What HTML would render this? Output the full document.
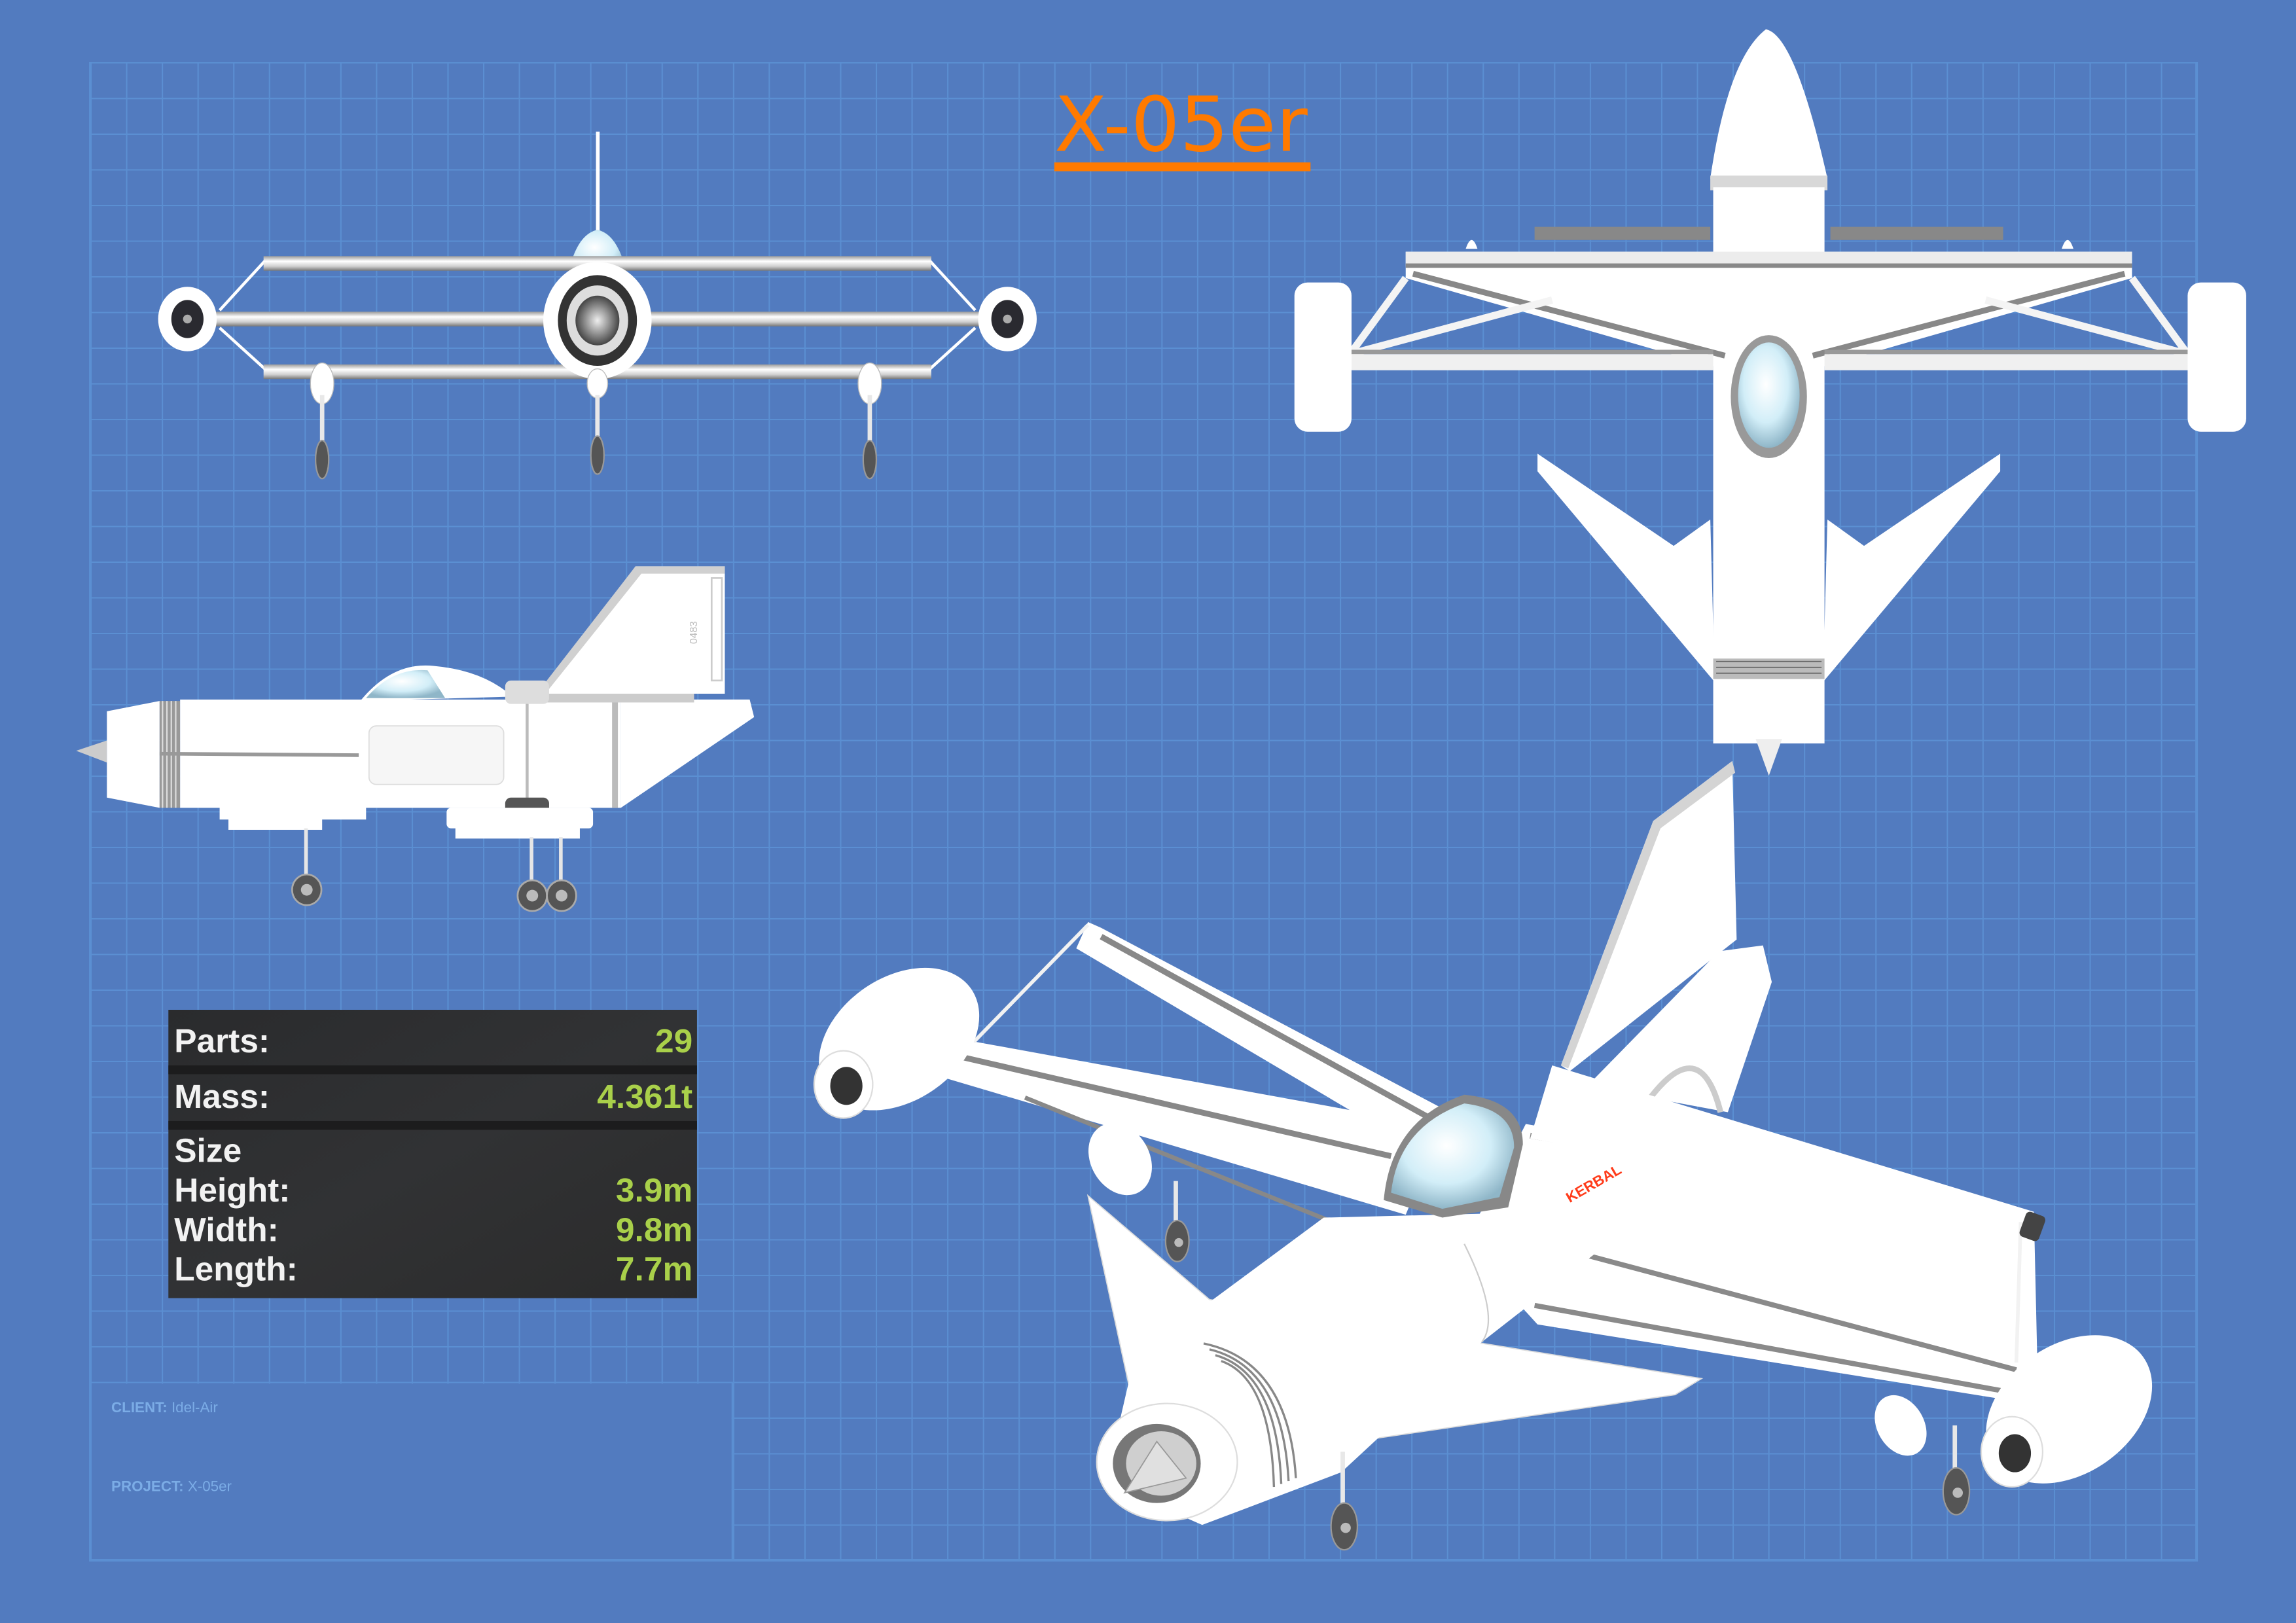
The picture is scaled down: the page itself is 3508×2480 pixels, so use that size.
<!DOCTYPE html>
<html><head><meta charset="utf-8"><style>
html,body{margin:0;padding:0;background:#527bbf;}
svg{display:block;}
</style></head><body>
<svg width="3508" height="2480" viewBox="0 0 1568 1109" preserveAspectRatio="none" xmlns="http://www.w3.org/2000/svg">
<defs>
<pattern id="grid" x="61.7" y="42.5" width="24.38" height="24.37" patternUnits="userSpaceOnUse">
<path d="M0 0V24.37M0 0H24.38" stroke="#5b8fd2" stroke-width="1.8" fill="none"/>
</pattern>
<linearGradient id="bar" x1="0" y1="0" x2="0" y2="1">
<stop offset="0" stop-color="#9a9a9a"/><stop offset="0.35" stop-color="#ffffff"/><stop offset="0.7" stop-color="#cfcfcf"/><stop offset="1" stop-color="#777"/>
</linearGradient>
<radialGradient id="glass" cx="0.45" cy="0.4" r="0.6">
<stop offset="0" stop-color="#ffffff"/><stop offset="0.6" stop-color="#d2eef8"/><stop offset="1" stop-color="#8fb6c8"/>
</radialGradient>
<radialGradient id="eng" cx="0.5" cy="0.5" r="0.5">
<stop offset="0" stop-color="#eee"/><stop offset="0.5" stop-color="#999"/><stop offset="1" stop-color="#444"/>
</radialGradient>
<linearGradient id="panel" x1="0" y1="0" x2="1" y2="1">
<stop offset="0" stop-color="#2a2b2d"/><stop offset="0.5" stop-color="#313234"/><stop offset="1" stop-color="#2b2b2b"/>
</linearGradient>
</defs>
<rect width="1568" height="1109" fill="#527bbf"/>
<rect x="61.7" y="42.5" width="1438.4" height="1023.6" fill="url(#grid)"/>
<rect x="62.6" y="945.5" width="437" height="120" fill="#527bbf"/>
<path d="M61.7 42.5V1066.1H1500.1V42.5" stroke="#5b8fd2" stroke-width="1.8" fill="none"/>
<path d="M500.5 944.6V1066" stroke="#5b8fd2" stroke-width="1.8"/>

<!-- title -->
<text x="720" y="103" font-family="'DejaVu Sans','Liberation Sans',sans-serif" font-size="52" fill="#ff7a00" textLength="173" lengthAdjust="spacingAndGlyphs">X-05er</text>
<rect x="720" y="111" width="175" height="6" fill="#ff7a00"/>

<!-- client/project -->
<text x="76" y="965" font-family="'Liberation Sans',sans-serif" font-size="10" fill="#7bace6"><tspan font-weight="bold">CLIENT:</tspan> Idel-Air</text>
<text x="76" y="1019" font-family="'Liberation Sans',sans-serif" font-size="10" fill="#7bace6"><tspan font-weight="bold">PROJECT:</tspan> X-05er</text>

<!-- stats panel -->
<rect x="115" y="690" width="361" height="197" fill="url(#panel)"/>
<rect x="115" y="728" width="361" height="6" fill="#1c1c1d"/>
<rect x="115" y="766" width="361" height="6" fill="#1c1c1d"/>
<g font-family="'Liberation Sans',sans-serif" font-size="23" font-weight="bold" fill="#f2f2f2">
<text x="119" y="719">Parts:</text>
<text x="119" y="757">Mass:</text>
<text x="119" y="794">Size</text>
<text x="119" y="821">Height:</text>
<text x="119" y="848">Width:</text>
<text x="119" y="875">Length:</text>
</g>
<g font-family="'Liberation Sans',sans-serif" font-size="23" font-weight="bold" fill="#a9d04a" text-anchor="end">
<text x="473" y="719">29</text>
<text x="473" y="757">4.361t</text>
<text x="473" y="821">3.9m</text>
<text x="473" y="848">9.8m</text>
<text x="473" y="875">7.7m</text>
</g>

<!-- FRONT VIEW -->
<g>
<rect x="407" y="90" width="2.5" height="72" fill="#fff"/>
<path d="M388 187 Q394 160 408 157 Q422 160 428 187Z" fill="url(#glass)"/>
<path d="M183 176L150 212M150 224L183 254M633 176L666 212M666 224L633 254" stroke="#fff" stroke-width="2"/>
<rect x="180" y="175" width="456" height="10" fill="url(#bar)"/>
<rect x="144" y="213" width="529" height="10" fill="url(#bar)"/>
<rect x="180" y="249" width="456" height="10" fill="url(#bar)"/>
<ellipse cx="128" cy="218" rx="20" ry="22" fill="#fff"/>
<ellipse cx="128" cy="218" rx="11" ry="13" fill="#2a2a30"/>
<circle cx="128" cy="218" r="3" fill="#aaa"/>
<ellipse cx="688" cy="218" rx="20" ry="22" fill="#fff"/>
<ellipse cx="688" cy="218" rx="11" ry="13" fill="#2a2a30"/>
<circle cx="688" cy="218" r="3" fill="#aaa"/>
<ellipse cx="408" cy="219" rx="37" ry="40" fill="#fff"/>
<ellipse cx="408" cy="219" rx="27" ry="31" fill="#333"/>
<ellipse cx="408" cy="219" rx="21" ry="24" fill="#ddd"/>
<ellipse cx="408" cy="219" rx="15" ry="17" fill="url(#eng)"/>
<g fill="#fff" stroke="#bbb" stroke-width="0.6">
<ellipse cx="220" cy="262" rx="8" ry="14"/><ellipse cx="408" cy="262" rx="7" ry="10"/><ellipse cx="594" cy="262" rx="8" ry="14"/>
</g>
<g stroke="#e8e8e8" stroke-width="3">
<path d="M220 270V312M408 270V310M594 270V312"/>
</g>
<g fill="#555" stroke="#999" stroke-width="1">
<ellipse cx="220" cy="314" rx="4.5" ry="13"/><ellipse cx="408" cy="311" rx="4.5" ry="13"/><ellipse cx="594" cy="314" rx="4.5" ry="13"/>
</g>
</g>

<!-- TOP VIEW -->
<g>
<path d="M1168 122 Q1180 40 1206 20 Q1226 24 1248 122Z" fill="#fff"/>
<rect x="1168" y="120" width="80" height="10" fill="#d8d8d8"/>
<rect x="1048" y="155" width="120" height="9" fill="#888"/>
<rect x="1250" y="155" width="118" height="9" fill="#888"/>
<rect x="1170" y="128" width="76" height="380" fill="#fff"/>
<path d="M960 172H1456V190L1240 252H1176L960 190Z" fill="#fff"/>
<rect x="960" y="172" width="496" height="10" fill="#ececec"/>
<rect x="960" y="180" width="496" height="3" fill="#888"/>
<path d="M965 187L1178 243M1451 187L1238 243" stroke="#888" stroke-width="4"/>
<path d="M960 190L922 242L1060 205M1456 190L1494 242L1356 205" stroke="#f4f4f4" stroke-width="5" fill="none"/>
<rect x="920" y="242" width="250" height="11" fill="#f0f0f0"/>
<rect x="920" y="239" width="250" height="3" fill="#999"/>
<rect x="1246" y="242" width="250" height="11" fill="#f0f0f0"/>
<rect x="1246" y="239" width="250" height="3" fill="#999"/>
<rect x="884" y="193" width="39" height="102" rx="9" fill="#fff"/>
<rect x="1494" y="193" width="40" height="102" rx="9" fill="#fff"/>
<path d="M1001 170 Q1005 158 1009 170ZM1408 170 Q1412 158 1416 170Z" fill="#fff"/>
<ellipse cx="1208" cy="271" rx="26" ry="42" fill="#999"/>
<ellipse cx="1208" cy="270" rx="21" ry="36" fill="url(#glass)"/>
<path d="M1050 310V322L1171 466L1168 355L1143 373Z" fill="#fff"/>
<path d="M1366 310V322L1245 466L1248 355L1273 373Z" fill="#fff"/>
<rect x="1170" y="450" width="76" height="14" fill="#bbb"/>
<path d="M1172 452H1244M1172 456H1244M1172 460H1244" stroke="#666" stroke-width="0.8"/>
<path d="M1172 470H1246L1240 505H1178Z" fill="#fff"/>
<path d="M1199 505H1217L1208 530Z" fill="#eee"/>
</g>

<!-- SIDE VIEW -->
<g>
<path d="M434 387H495V474H368Z" fill="#fff"/>
<path d="M434 387H495V392H438L374 472H368Z" fill="#d0d0d0"/>
<rect x="486" y="395" width="7" height="70" fill="none" stroke="#ccc" stroke-width="1.2"/>
<text x="476" y="440" font-family="'Liberation Sans',sans-serif" font-size="7" fill="#bbb" transform="rotate(-90 476 440)">0483</text>
<path d="M246 479 Q268 452 296 455 Q330 458 350 476Z" fill="#fff"/>
<path d="M250 477 Q268 456 292 458 L304 477Z" fill="url(#glass)"/>
<path d="M52 513 L73 506 V521Z" fill="#ccc"/>
<path d="M73 486L109 479V552L73 545Z" fill="#fff"/>
<rect x="109" y="479" width="14" height="73" fill="#999"/>
<path d="M111 479V552M114 479V552M117 479V552M120 479V552" stroke="#ddd" stroke-width="1"/>
<rect x="123" y="478" width="301" height="74" fill="#fff"/>
<path d="M424 478H512L515 490L424 552Z" fill="#fff"/>
<rect x="418" y="478" width="4" height="74" fill="#bbb"/>
<rect x="354" y="474" width="120" height="6" fill="#ccc"/>
<path d="M109 515L245 516" stroke="#999" stroke-width="2.5"/>
<rect x="252" y="496" width="92" height="40" rx="5" fill="#f6f6f6" stroke="#ddd" stroke-width="0.8"/>
<path d="M360 478V560" stroke="#bbb" stroke-width="2"/>
<rect x="345" y="465" width="30" height="16" rx="4" fill="#ddd"/>
<rect x="345" y="545" width="30" height="14" rx="4" fill="#555"/>
<rect x="150" y="550" width="100" height="10" fill="#fff"/>
<rect x="156" y="558" width="64" height="9" fill="#fff"/>
<rect x="305" y="552" width="100" height="14" rx="3" fill="#fff"/>
<rect x="311" y="565" width="85" height="8" fill="#fff"/>
<path d="M209 566V604M363 572V608M383 572V608" stroke="#e6e6e6" stroke-width="2.5"/>
<g fill="#555" stroke="#aaa" stroke-width="1.2">
<ellipse cx="209.5" cy="608" rx="10" ry="10.5"/><ellipse cx="363.5" cy="612" rx="10" ry="10.5"/><ellipse cx="383.5" cy="612" rx="10" ry="10.5"/>
</g>
<g fill="#bbb"><circle cx="209.5" cy="608" r="4"/><circle cx="363.5" cy="612" r="4"/><circle cx="383.5" cy="612" r="4"/></g>
</g>

<!-- 3D VIEW -->
<g>
<path d="M1129 561L1183 520L1186 642L1072 732L1066 728Z" fill="#fff"/>
<path d="M1129 561L1183 520L1185 528L1134 566L1071 730L1066 728Z" fill="#d4d4d4"/>
<path d="M1174 650L1204 646L1210 671L1180 760L1084 742Z" fill="#fff"/>
<path d="M1120 760 Q1160 700 1175 760" stroke="#ccc" stroke-width="4" fill="none"/>
<path d="M1042 768L1389 828L1392 960L1050 905L1000 850Z" fill="#fff"/>
<path d="M1045 776L1389 833" stroke="#8a8a8a" stroke-width="4"/>
<path d="M1066 853L1377 936M1048 892L1371 951" stroke="#8a8a8a" stroke-width="3.5"/>
<path d="M1060 728L1389 828L1385 838L1045 778Z" fill="#fff"/>
<path d="M743 630L752 634L990 760L975 790L735 648Z" fill="#fff"/>
<path d="M752 640L982 767" stroke="#888" stroke-width="4"/>
<path d="M635 712L645 708L985 770L960 830L640 735Z" fill="#fff"/>
<path d="M647 720L950 790" stroke="#888" stroke-width="4"/>
<path d="M700 750L910 835" stroke="#888" stroke-width="3"/>
<path d="M665 712L743 632M1380 835L1377 931" stroke="#f2f2f2" stroke-width="2.5"/>
<rect x="1381" y="829" width="14" height="18" rx="3" fill="#444" transform="rotate(20 1388 838)"/>
<ellipse cx="614" cy="710" rx="60" ry="42" transform="rotate(-35 614 710)" fill="#fff"/>
<ellipse cx="576" cy="741" rx="20" ry="23" fill="#fff" stroke="#ddd" stroke-width="1"/>
<ellipse cx="578" cy="742" rx="11" ry="13" fill="#333"/>
<ellipse cx="1413" cy="963" rx="62" ry="44" transform="rotate(-35 1413 963)" fill="#fff"/>
<ellipse cx="1374" cy="992" rx="21" ry="24" fill="#fff" stroke="#ddd" stroke-width="1"/>
<ellipse cx="1376" cy="993" rx="11" ry="13" fill="#333"/>
<ellipse cx="765" cy="792" rx="20" ry="26" transform="rotate(-30 765 792)" fill="#fff"/>
<ellipse cx="1298" cy="974" rx="16" ry="22" transform="rotate(-30 1298 974)" fill="#fff"/>
<path d="M743 817L826 888L1162 942L1144 953L904 988L773 956Z" fill="#fff" stroke="#ddd" stroke-width="0.8"/>
<path d="M904 832L1066 828L1108 842L1012 917L916 1006L821 1042L755 1013L773 935L827 889Z" fill="#fff"/>
<path d="M1000 850 Q1025 900 1012 917" stroke="#ccc" stroke-width="1" fill="none"/>
<path d="M945 820 Q950 765 1000 748 Q1040 752 1040 782 L1030 825 L985 832Z" fill="#888"/>
<path d="M950 815 Q955 770 1000 754 Q1034 758 1034 784 L1024 818 L985 826Z" fill="url(#glass)"/>
<text x="1072" y="822" font-family="'Liberation Sans',sans-serif" font-size="10" font-weight="bold" fill="#ff3b1a" transform="rotate(-30 1072 822)">KERBAL</text>
<g fill="none" stroke="#888" stroke-width="1.5">
<path d="M822 918 Q880 930 885 1010"/><path d="M826 922 Q876 934 880 1012"/><path d="M830 926 Q872 938 875 1014"/><path d="M834 930 Q868 942 870 1016"/>
</g>
<ellipse cx="797" cy="999" rx="48" ry="40" fill="#fff" stroke="#ddd" stroke-width="1"/>
<ellipse cx="790" cy="1000" rx="30" ry="27" fill="#777"/>
<ellipse cx="793" cy="1000" rx="24" ry="22" fill="#cfcfcf"/>
<path d="M768 1020L790 985L810 1010Z" fill="#e0e0e0" stroke="#999" stroke-width="0.8"/>
<path d="M803 807V850M917 992V1042M1335 974V1020" stroke="#e8e8e8" stroke-width="3"/>
<g fill="#555" stroke="#999" stroke-width="1">
<ellipse cx="804" cy="848" rx="8" ry="14"/><ellipse cx="918" cy="1043" rx="9" ry="16"/><ellipse cx="1336" cy="1019" rx="9" ry="16"/>
</g>
<g fill="#bbb"><circle cx="805" cy="849" r="3"/><circle cx="919" cy="1044" r="3.5"/><circle cx="1337" cy="1020" r="3.5"/></g>
</g>
</svg>
</body></html>
